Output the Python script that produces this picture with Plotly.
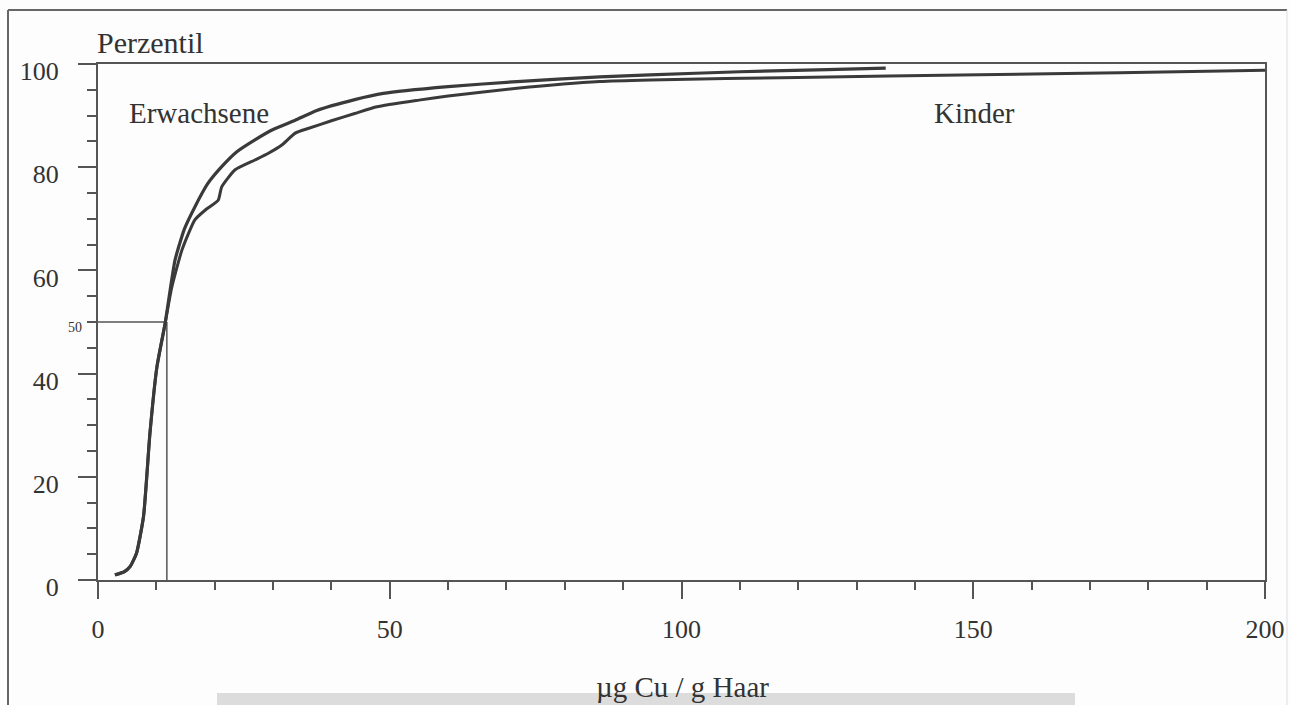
import plotly.graph_objects as go

# ---- data ----
erw_x = [2.9, 4.5, 5.5, 6.6, 7.8, 8.9, 10.1, 11.5, 13.2, 14.8, 16.6, 18.8, 21.2, 23.8, 26.9, 30.0, 33.8, 37.5, 44.0, 48.9, 60.0, 71.8, 86.0, 94.6, 110.0, 125.0, 135.0]
erw_y = [1.0, 1.6, 2.6, 5.2, 12.3, 28.4, 41.3, 49.7, 62.0, 68.0, 72.3, 76.8, 80.1, 83.0, 85.3, 87.3, 89.1, 91.0, 93.1, 94.3, 95.6, 96.6, 97.5, 97.9, 98.5, 98.9, 99.2]

kin_x = [2.9, 4.5, 5.5, 6.6, 7.8, 8.9, 10.1, 11.5, 12.6, 14.4, 16.6, 18.5, 20.6, 21.2, 23.5, 26.9, 29.2, 31.5, 33.8, 36.0, 40.0, 44.0, 47.8, 55.0, 60.0, 71.8, 86.0, 94.6, 120.0, 151.0, 175.0, 200.0]
kin_y = [1.0, 1.6, 2.6, 5.2, 12.3, 28.4, 41.3, 49.7, 56.5, 64.0, 69.8, 71.8, 73.6, 76.2, 79.5, 81.4, 82.7, 84.3, 86.6, 87.5, 89.0, 90.4, 91.7, 93.0, 93.8, 95.3, 96.6, 96.9, 97.4, 97.9, 98.3, 98.8]

median_x = 11.8
median_y = 50

x_ticks = [0, 50, 100, 150, 200]
y_ticks = [0, 20, 40, 60, 80, 100]

ink = "#3a3a3a"
axis_col = "#555555"
txt_col = "#333333"
font_fam = "Liberation Serif, Times New Roman, serif"

# plot-area pixel geometry
W, H = 1290, 705
L, R, T, B = 98, 25, 64, 125
pw, ph = W - L - R, H - T - B


def px_x(p):
    return (p - L) / pw


def px_y(p):
    return (H - B - p) / ph


fig = go.Figure()

# median reference lines
fig.add_trace(go.Scatter(x=[0, median_x], y=[median_y, median_y], mode="lines",
                         line=dict(color=axis_col, width=1.5), hoverinfo="skip", showlegend=False))
fig.add_trace(go.Scatter(x=[median_x, median_x], y=[0, median_y], mode="lines",
                         line=dict(color=axis_col, width=1.5), hoverinfo="skip", showlegend=False))

fig.add_trace(go.Scatter(x=kin_x, y=kin_y, mode="lines", name="Kinder",
                         line=dict(color=ink, width=3, shape="spline", smoothing=0.5), showlegend=False))
fig.add_trace(go.Scatter(x=erw_x, y=erw_y, mode="lines", name="Erwachsene",
                         line=dict(color=ink, width=3.2, shape="spline", smoothing=0.5), showlegend=False))

fig.update_layout(
    width=W, height=H,
    margin=dict(l=L, r=R, t=T, b=B, autoexpand=False),
    paper_bgcolor="#fdfdfd", plot_bgcolor="#fdfdfd",
    font=dict(family=font_fam, color=txt_col),
    showlegend=False,
)

fig.update_xaxes(
    range=[0, 200], showgrid=False, zeroline=False,
    showline=True, mirror=True, linecolor=axis_col, linewidth=2,
    tickmode="array", tickvals=x_ticks, ticktext=[str(v) for v in x_ticks],
    ticks="outside", ticklen=17, tickwidth=1.5, tickcolor=axis_col,
    ticklabelstandoff=8,
    tickfont=dict(size=26, family=font_fam, color=txt_col),
    minor=dict(dtick=10, ticks="outside", ticklen=8, tickwidth=1.5, tickcolor=axis_col),
)
fig.update_yaxes(
    range=[0, 100], showgrid=False, zeroline=False,
    showline=True, mirror=True, linecolor=axis_col, linewidth=2,
    tickmode="array", tickvals=y_ticks, ticktext=[str(v) for v in y_ticks],
    ticks="outside", ticklen=18, tickwidth=1.5, tickcolor=axis_col,
    ticklabelstandoff=14, ticklabelshift=7,
    tickfont=dict(size=26, family=font_fam, color=txt_col),
    minor=dict(dtick=5, ticks="outside", ticklen=9, tickwidth=1.5, tickcolor=axis_col),
)

# outer frame of the figure (scan border) and grey caption band
fig.add_shape(type="line", xref="paper", yref="paper", x0=px_x(8), x1=px_x(8), y0=px_y(10), y1=px_y(705),
              line=dict(color="#666666", width=2))
fig.add_shape(type="line", xref="paper", yref="paper", x0=px_x(8), x1=px_x(1287), y0=px_y(10), y1=px_y(10),
              line=dict(color="#666666", width=2))
fig.add_shape(type="line", xref="paper", yref="paper", x0=px_x(1287), x1=px_x(1287), y0=px_y(10), y1=px_y(705),
              line=dict(color="#dddddd", width=1))
fig.add_shape(type="rect", xref="paper", yref="paper", x0=px_x(217), x1=px_x(1075), y0=px_y(693), y1=px_y(705),
              fillcolor="#dcdcdc", line=dict(width=0), layer="below")

ann_font = dict(family=font_fam, size=29, color=txt_col)
fig.add_annotation(text="Perzentil", xref="paper", yref="paper", x=px_x(95), y=px_y(43),
                   xanchor="left", yanchor="middle", showarrow=False,
                   font=dict(family=font_fam, size=30, color=txt_col))
fig.add_annotation(text="Erwachsene", xref="x", yref="y", x=5.0, y=90.6,
                   xanchor="left", yanchor="middle", showarrow=False, font=ann_font)
fig.add_annotation(text="Kinder", xref="x", yref="y", x=143.0, y=90.6,
                   xanchor="left", yanchor="middle", showarrow=False, font=ann_font)
fig.add_annotation(text="µg Cu / g Haar", xref="paper", yref="paper", x=px_x(682), y=px_y(687),
                   xanchor="center", yanchor="middle", showarrow=False, font=ann_font)
fig.add_annotation(text="50", xref="paper", yref="y", x=px_x(75), y=median_y - 1,
                   xanchor="center", yanchor="middle", showarrow=False,
                   font=dict(family=font_fam, size=14, color=txt_col))

fig.write_html("out.html")
